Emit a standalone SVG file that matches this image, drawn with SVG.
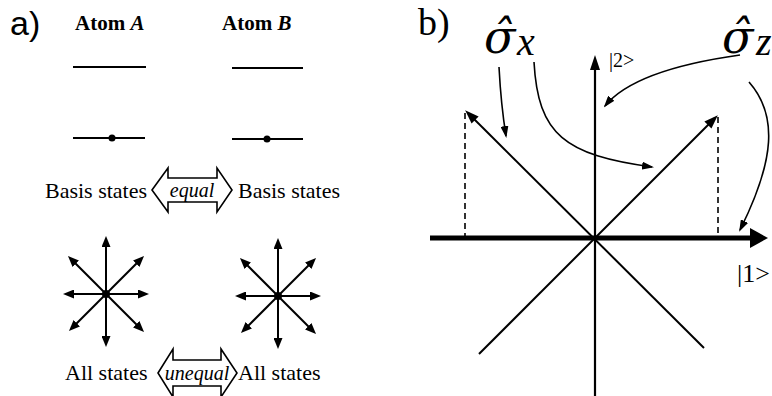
<svg xmlns="http://www.w3.org/2000/svg" width="772" height="396" viewBox="0 0 772 396">
<style>
text{font-family:"Liberation Serif","Times New Roman",serif;fill:#000}
.ln{stroke:#000;stroke-width:2;fill:none}
.thin{stroke:#000;stroke-width:1.6;fill:none}
.dash{stroke:#000;stroke-width:1.6;stroke-dasharray:6 4;fill:none}
.lbl{font-size:22px}
.it{font-style:italic}
.blk{fill:#fff;stroke:#000;stroke-width:1.6}
.sig{font-family:"DejaVu Serif",serif;font-size:46px;font-style:italic}
.sub{font-size:40px;font-style:italic}
</style>
<defs>
<marker id="sa" viewBox="0 0 11 9" refX="7" refY="4.5" markerWidth="11" markerHeight="9" markerUnits="userSpaceOnUse" orient="auto"><path d="M0,0 L11,4.5 L0,9 Z" fill="#000"/></marker>
<marker id="ba" viewBox="0 0 14 10" refX="10" refY="5" markerWidth="14" markerHeight="10" markerUnits="userSpaceOnUse" orient="auto"><path d="M0,0 L14,5 L0,10 Z" fill="#000"/></marker>
<marker id="ca" viewBox="0 0 12 8" refX="10" refY="4" markerWidth="12" markerHeight="8" markerUnits="userSpaceOnUse" orient="auto"><path d="M0,0 L12,4 L0,8 Z" fill="#000"/></marker>
<g id="star">
<line class="ln" x1="0" y1="0" x2="0" y2="-54" marker-end="url(#sa)"/>
<line class="ln" x1="0" y1="0" x2="0" y2="49" marker-end="url(#sa)"/>
<line class="ln" x1="0" y1="0" x2="-39" y2="0" marker-end="url(#sa)"/>
<line class="ln" x1="0" y1="0" x2="39" y2="0" marker-end="url(#sa)"/>
<line class="ln" x1="0" y1="0" x2="-35.2" y2="-35.2" marker-end="url(#sa)"/>
<line class="ln" x1="0" y1="0" x2="35.2" y2="-35.2" marker-end="url(#sa)"/>
<line class="ln" x1="0" y1="0" x2="-34.2" y2="34.2" marker-end="url(#sa)"/>
<line class="ln" x1="0" y1="0" x2="35.2" y2="35.2" marker-end="url(#sa)"/>
<circle cx="0" cy="0" r="4" fill="#000"/>
</g>
</defs>

<g id="panel-a">
<text x="10" y="35" style="font-family:'Liberation Sans',Arial,sans-serif;font-size:34px">a)</text>
<g id="atomA">
<text x="75" y="30" style="font-size:21px;font-weight:bold">Atom <tspan font-style="italic">A</tspan></text>
<line class="ln" x1="73" y1="67" x2="146" y2="67"/>
<line class="ln" x1="73" y1="138" x2="145" y2="138"/>
<circle cx="112" cy="138" r="3.5" fill="#000"/>
</g>
<g id="atomB">
<text x="222" y="30" style="font-size:21px;font-weight:bold">Atom <tspan font-style="italic">B</tspan></text>
<line class="ln" x1="232" y1="68" x2="303" y2="68"/>
<line class="ln" x1="232" y1="139" x2="303" y2="139"/>
<circle cx="267" cy="139" r="3.5" fill="#000"/>
</g>
<g id="basis-left"><text class="lbl" x="45" y="198">Basis states</text></g>
<g id="equal">
<path class="blk" d="M152,190 L168,168 L168,178 L217,178 L217,168 L232,190 L217,212 L217,202 L168,202 L168,212 Z"/>
<text class="it" x="192" y="197" text-anchor="middle" style="font-size:20px">equal</text>
</g>
<g id="basis-right"><text class="lbl" x="238" y="198">Basis states</text></g>
<g id="starA"><use href="#star" transform="translate(106,294)"/></g>
<g id="starB"><use href="#star" transform="translate(278,296)"/></g>
<g id="all-left"><text class="lbl" x="65" y="380">All states</text></g>
<g id="unequal">
<path class="blk" d="M158,373 L173,349 L173,360 L221,360 L221,349 L237,373 L221,397 L221,386 L173,386 L173,397 Z"/>
<text class="it" x="197" y="380" text-anchor="middle" style="font-size:20px">unequal</text>
</g>
<g id="all-right"><text class="lbl" x="238" y="380">All states</text></g>
</g>

<g id="panel-b">
<text x="418" y="35" style="font-size:38px">b)</text>
<g id="sigma-x">
<text x="484" y="53" class="sig">σ̂</text>
<text x="517" y="55" class="sub">x</text>
</g>
<g id="sigma-z">
<text x="722" y="53" class="sig">σ̂</text>
<text x="756" y="55" class="sub">z</text>
</g>
<g id="axis-2">
<line x1="595" y1="396" x2="595" y2="70" stroke="#000" stroke-width="2.2"/>
<path d="M590,70 L595,55 L600,70 Z" fill="#000"/>
<text x="609" y="67" style="font-size:20px">|2&gt;</text>
</g>
<g id="axis-1">
<line x1="430" y1="238" x2="752" y2="238" stroke="#000" stroke-width="5"/>
<path d="M750,228 L768,238 L750,248 Z" fill="#000"/>
<text x="737" y="282" style="font-size:26px">|1&gt;</text>
</g>
<g id="vectors">
<line class="ln" x1="704" y1="348" x2="468" y2="113" marker-end="url(#ba)"/>
<line class="ln" x1="479" y1="354" x2="715" y2="118" marker-end="url(#ba)"/>
<line class="dash" x1="465" y1="113" x2="465" y2="236"/>
<line class="dash" x1="718" y1="117" x2="718" y2="236"/>
</g>
<g id="connectors">
<path class="thin" d="M499,67 Q501,105 506,136" marker-end="url(#ca)"/>
<path class="thin" d="M534,62 C538,135 565,155 652,167" marker-end="url(#ca)"/>
<path class="thin" d="M740,55 C690,62 630,75 605,106" marker-end="url(#ca)"/>
<path class="thin" d="M749,82 C778,115 775,160 740,230" marker-end="url(#ca)"/>
</g>
</g>
</svg>
